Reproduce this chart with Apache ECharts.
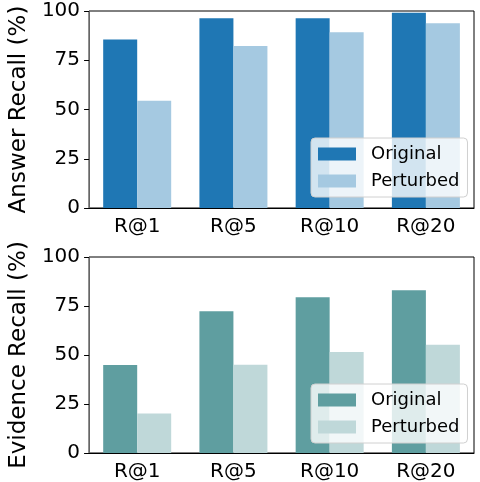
<!DOCTYPE html>
<html>
<head>
<meta charset="utf-8">
<script src="https://cdn.jsdelivr.net/npm/echarts@6/dist/echarts.min.js"></script>
<style>
  html, body { margin: 0; padding: 0; background: #fff; }
  #chart { width: 480px; height: 482px; }
</style>
</head>
<body>
<div id="chart"></div>
<script>
var categories = ['R@1', 'R@5', 'R@10', 'R@20'];
var answerOriginal = [85.5, 96.3, 96.3, 99.1];
var answerPerturbed = [54.5, 82.2, 89.2, 93.8];
var evidenceOriginal = [44.9, 72.3, 79.5, 83.0];
var evidencePerturbed = [20.2, 45.0, 51.5, 55.2];
var yTicks = [0, 25, 50, 75, 100];

var font = 'DejaVu Sans';
var blue = '#1f77b4', lightBlue = '#a5c9e1';
var teal = '#5f9ea0', lightTeal = '#bfd8d9';

var chartDom = document.getElementById('chart');
var myChart = echarts.init(chartDom);
var option;

function xAxisFor(idx) {
    return {
        type: 'category',
        gridIndex: idx,
        data: categories,
        axisLine: { lineStyle: { color: '#000', width: 1 } },
        axisTick: { alignWithLabel: true, length: 5, lineStyle: { color: '#000' } },
        axisLabel: { color: '#000', fontFamily: font, fontSize: 20, margin: 9 }
    };
}

function yAxisFor(idx, name) {
    return {
        type: 'value',
        gridIndex: idx,
        min: yTicks[0],
        max: yTicks[yTicks.length - 1],
        interval: 25,
        name: name,
        nameLocation: 'middle',
        nameRotate: 90,
        nameGap: 52,
        nameTextStyle: { color: '#000', fontFamily: font, fontSize: 23 },
        splitLine: { show: false },
        axisLine: { show: true, lineStyle: { color: '#666', width: 1 } },
        axisTick: { show: true, length: 5, lineStyle: { color: '#000' } },
        axisLabel: { color: '#000', fontFamily: font, fontSize: 20, margin: 9 }
    };
}

function legendFor(top, c1, c2) {
    return {
        orient: 'vertical',
        left: 311,
        top: top,
        itemWidth: 38,
        itemHeight: 13,
        itemGap: 9,
        padding: [7, 8, 7, 7],
        backgroundColor: 'rgba(255,255,255,0.8)',
        borderColor: '#d0d0d0',
        borderWidth: 1,
        borderRadius: 4,
        textStyle: { color: '#000', fontFamily: font, fontSize: 18, padding: [0, 0, 0, 10] },
        data: [
            { name: 'Original', icon: 'rect', itemStyle: { color: c1 } },
            { name: 'Perturbed', icon: 'rect', itemStyle: { color: c2 } }
        ]
    };
}

function barSeries(name, idx, values, color) {
    return {
        name: name,
        type: 'bar',
        xAxisIndex: idx,
        yAxisIndex: idx,
        data: values,
        barWidth: 34,
        barGap: '0%',
        itemStyle: { color: color },
        z: 2
    };
}

option = {
    backgroundColor: '#fff',
    animation: false,
    grid: [
        { left: 77, top: 11, width: 397, height: 197, show: true, borderColor: '#000', borderWidth: 1, backgroundColor: 'transparent' },
        { left: 77, top: 257, width: 397, height: 197, show: true, borderColor: '#000', borderWidth: 1, backgroundColor: 'transparent' }
    ],
    legend: [
        legendFor(138, blue, lightBlue),
        legendFor(384, teal, lightTeal)
    ],
    xAxis: [xAxisFor(0), xAxisFor(1)],
    yAxis: [yAxisFor(0, 'Answer Recall (%)'), yAxisFor(1, 'Evidence Recall (%)')],
    series: [
        barSeries('Original', 0, answerOriginal, blue),
        barSeries('Perturbed', 0, answerPerturbed, lightBlue),
        barSeries('Original', 1, evidenceOriginal, teal),
        barSeries('Perturbed', 1, evidencePerturbed, lightTeal)
    ]
};

option && myChart.setOption(option);
</script>
</body>
</html>
